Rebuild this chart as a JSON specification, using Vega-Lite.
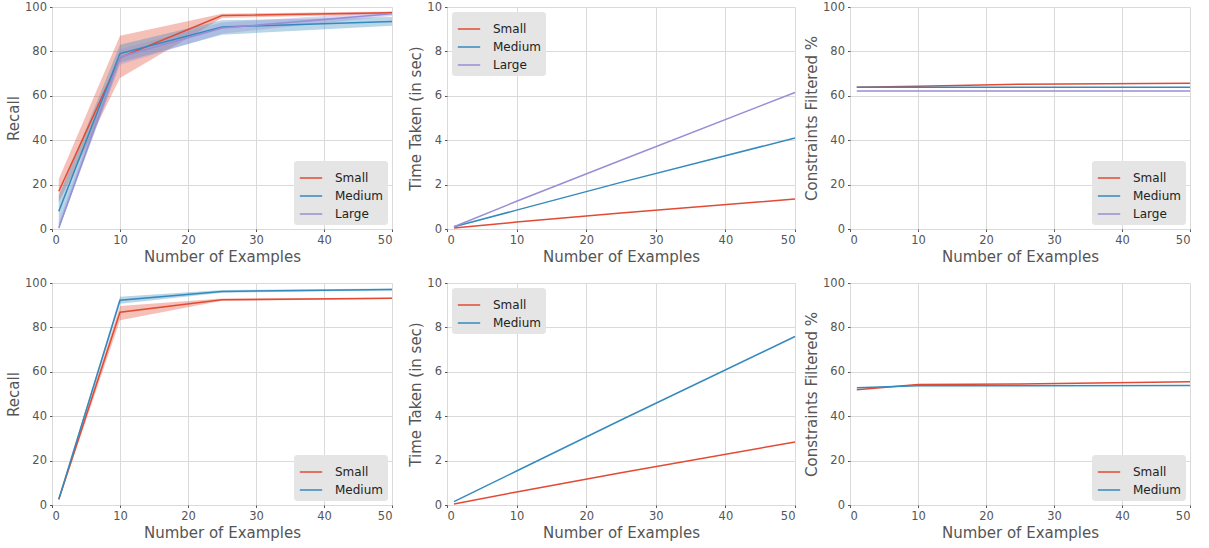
{
  "$schema": "https://vega.github.io/schema/vega-lite/v6.json",
  "background": "white",
  "padding": {"left": 6, "top": 1, "right": 5, "bottom": 5},
  "bounds": "flush",
  "align": "each",
  "columns": 3,
  "spacing": {"row": 54, "column": 55},
  "datasets": {
    "recall1": [
      {"x": 1, "series": "Small", "y": 17, "lo": 12, "hi": 22.5},
      {"x": 10, "series": "Small", "y": 77.2, "lo": 68, "hi": 87},
      {"x": 25, "series": "Small", "y": 96.2, "lo": 95, "hi": 97},
      {"x": 50, "series": "Small", "y": 97.4, "lo": 96.8, "hi": 98},
      {"x": 1, "series": "Medium", "y": 8, "lo": 0, "hi": 15},
      {"x": 10, "series": "Medium", "y": 79, "lo": 75, "hi": 83},
      {"x": 25, "series": "Medium", "y": 91, "lo": 87.5, "hi": 94},
      {"x": 50, "series": "Medium", "y": 93.5, "lo": 91.5, "hi": 95.5},
      {"x": 1, "series": "Large", "y": 0.5, "lo": 0, "hi": 3},
      {"x": 10, "series": "Large", "y": 77.5, "lo": 74, "hi": 81},
      {"x": 25, "series": "Large", "y": 90.5, "lo": 88, "hi": 93},
      {"x": 50, "series": "Large", "y": 97, "lo": 96, "hi": 98}
    ],
    "time1": [
      {"x": 1, "series": "Small", "y": 0.05},
      {"x": 10, "series": "Small", "y": 0.31},
      {"x": 25, "series": "Small", "y": 0.72},
      {"x": 50, "series": "Small", "y": 1.35},
      {"x": 1, "series": "Medium", "y": 0.1},
      {"x": 10, "series": "Medium", "y": 0.85},
      {"x": 25, "series": "Medium", "y": 2.1},
      {"x": 50, "series": "Medium", "y": 4.1},
      {"x": 1, "series": "Large", "y": 0.1},
      {"x": 10, "series": "Large", "y": 1.25},
      {"x": 25, "series": "Large", "y": 3.1},
      {"x": 50, "series": "Large", "y": 6.15}
    ],
    "cons1": [
      {"x": 1, "series": "Small", "y": 63.8},
      {"x": 10, "series": "Small", "y": 64.3},
      {"x": 25, "series": "Small", "y": 65.2},
      {"x": 50, "series": "Small", "y": 65.7},
      {"x": 1, "series": "Medium", "y": 63.8},
      {"x": 10, "series": "Medium", "y": 63.8},
      {"x": 25, "series": "Medium", "y": 63.8},
      {"x": 50, "series": "Medium", "y": 63.8},
      {"x": 1, "series": "Large", "y": 62.2},
      {"x": 10, "series": "Large", "y": 62.2},
      {"x": 25, "series": "Large", "y": 62.2},
      {"x": 50, "series": "Large", "y": 62.2}
    ],
    "recall2": [
      {"x": 1, "series": "Small", "y": 2.6, "lo": 2, "hi": 3.2},
      {"x": 10, "series": "Small", "y": 86.8, "lo": 83.2, "hi": 89.6},
      {"x": 25, "series": "Small", "y": 92.5, "lo": 92, "hi": 93},
      {"x": 50, "series": "Small", "y": 93.1, "lo": 92.8, "hi": 93.4},
      {"x": 1, "series": "Medium", "y": 2.6, "lo": 2, "hi": 3.2},
      {"x": 10, "series": "Medium", "y": 92.2, "lo": 90.7, "hi": 93.8},
      {"x": 25, "series": "Medium", "y": 96.2, "lo": 95.6, "hi": 96.8},
      {"x": 50, "series": "Medium", "y": 97.1, "lo": 96.6, "hi": 97.5}
    ],
    "time2": [
      {"x": 1, "series": "Small", "y": 0.05},
      {"x": 10, "series": "Small", "y": 0.59},
      {"x": 25, "series": "Small", "y": 1.45},
      {"x": 50, "series": "Small", "y": 2.84},
      {"x": 1, "series": "Medium", "y": 0.15},
      {"x": 10, "series": "Medium", "y": 1.53},
      {"x": 25, "series": "Medium", "y": 3.83},
      {"x": 50, "series": "Medium", "y": 7.59}
    ],
    "cons2": [
      {"x": 1, "series": "Small", "y": 51.9},
      {"x": 10, "series": "Small", "y": 54.3},
      {"x": 25, "series": "Small", "y": 54.5},
      {"x": 50, "series": "Small", "y": 55.5},
      {"x": 1, "series": "Medium", "y": 52.8},
      {"x": 10, "series": "Medium", "y": 53.7},
      {"x": 25, "series": "Medium", "y": 53.7},
      {"x": 50, "series": "Medium", "y": 53.8}
    ]
  },
  "resolve": {"scale": {"color": "independent", "fill": "independent"}, "legend": {"color": "independent", "fill": "independent"}},
  "concat": [
    {
      "width": 340, "height": 222,
      "layer": [
        {
          "data": {"name": "recall1"},
          "mark": {"type": "area", "opacity": 0.35},
          "encoding": {
            "x": {"field": "x", "type": "quantitative", "scale": {"domain": [0, 50], "nice": false}, "axis": {"values": [0, 10, 20, 30, 40, 50], "title": "Number of Examples"}},
            "y": {"field": "lo", "type": "quantitative", "scale": {"domain": [0, 100], "nice": false}, "axis": {"values": [0, 20, 40, 60, 80, 100], "title": "Recall"}},
            "y2": {"field": "hi"},
            "fill": {"field": "series", "type": "nominal", "scale": {"domain": ["Large", "Medium", "Small"], "range": ["#988ED5", "#348ABD", "#E24A33"]}, "legend": null}
          }
        },
        {
          "data": {"name": "recall1"},
          "mark": {"type": "line", "strokeWidth": 1.5},
          "encoding": {
            "x": {"field": "x", "type": "quantitative"},
            "y": {"field": "y", "type": "quantitative"},
            "color": {"field": "series", "type": "nominal", "scale": {"domain": ["Small", "Medium", "Large"], "range": ["#E24A33", "#348ABD", "#988ED5"]}, "legend": {"orient": "bottom-right", "offset": 4}}
          }
        }
      ]
    },
    {
      "width": 348, "height": 222,
      "data": {"name": "time1"},
      "mark": {"type": "line", "strokeWidth": 1.5},
      "encoding": {
        "x": {"field": "x", "type": "quantitative", "scale": {"domain": [0, 50], "nice": false}, "axis": {"values": [0, 10, 20, 30, 40, 50], "title": "Number of Examples"}},
        "y": {"field": "y", "type": "quantitative", "scale": {"domain": [0, 10], "nice": false}, "axis": {"values": [0, 2, 4, 6, 8, 10], "title": "Time Taken (in sec)"}},
        "color": {"field": "series", "type": "nominal", "scale": {"domain": ["Small", "Medium", "Large"], "range": ["#E24A33", "#348ABD", "#988ED5"]}, "legend": {"orient": "top-left", "offset": 5}}
      }
    },
    {
      "width": 340, "height": 222,
      "data": {"name": "cons1"},
      "mark": {"type": "line", "strokeWidth": 1.5},
      "encoding": {
        "x": {"field": "x", "type": "quantitative", "scale": {"domain": [0, 50], "nice": false}, "axis": {"values": [0, 10, 20, 30, 40, 50], "title": "Number of Examples"}},
        "y": {"field": "y", "type": "quantitative", "scale": {"domain": [0, 100], "nice": false}, "axis": {"values": [0, 20, 40, 60, 80, 100], "title": "Constraints Filtered %"}},
        "color": {"field": "series", "type": "nominal", "scale": {"domain": ["Small", "Medium", "Large"], "range": ["#E24A33", "#348ABD", "#988ED5"]}, "legend": {"orient": "bottom-right", "offset": 4}}
      }
    },
    {
      "width": 340, "height": 222,
      "layer": [
        {
          "data": {"name": "recall2"},
          "mark": {"type": "area", "opacity": 0.35},
          "encoding": {
            "x": {"field": "x", "type": "quantitative", "scale": {"domain": [0, 50], "nice": false}, "axis": {"values": [0, 10, 20, 30, 40, 50], "title": "Number of Examples"}},
            "y": {"field": "lo", "type": "quantitative", "scale": {"domain": [0, 100], "nice": false}, "axis": {"values": [0, 20, 40, 60, 80, 100], "title": "Recall"}},
            "y2": {"field": "hi"},
            "fill": {"field": "series", "type": "nominal", "scale": {"domain": ["Medium", "Small"], "range": ["#348ABD", "#E24A33"]}, "legend": null}
          }
        },
        {
          "data": {"name": "recall2"},
          "mark": {"type": "line", "strokeWidth": 1.5},
          "encoding": {
            "x": {"field": "x", "type": "quantitative"},
            "y": {"field": "y", "type": "quantitative"},
            "color": {"field": "series", "type": "nominal", "scale": {"domain": ["Small", "Medium"], "range": ["#E24A33", "#348ABD"]}, "legend": {"orient": "bottom-right", "offset": 4}}
          }
        }
      ]
    },
    {
      "width": 348, "height": 222,
      "data": {"name": "time2"},
      "mark": {"type": "line", "strokeWidth": 1.5},
      "encoding": {
        "x": {"field": "x", "type": "quantitative", "scale": {"domain": [0, 50], "nice": false}, "axis": {"values": [0, 10, 20, 30, 40, 50], "title": "Number of Examples"}},
        "y": {"field": "y", "type": "quantitative", "scale": {"domain": [0, 10], "nice": false}, "axis": {"values": [0, 2, 4, 6, 8, 10], "title": "Time Taken (in sec)"}},
        "color": {"field": "series", "type": "nominal", "scale": {"domain": ["Small", "Medium"], "range": ["#E24A33", "#348ABD"]}, "legend": {"orient": "top-left", "offset": 5}}
      }
    },
    {
      "width": 340, "height": 222,
      "data": {"name": "cons2"},
      "mark": {"type": "line", "strokeWidth": 1.5},
      "encoding": {
        "x": {"field": "x", "type": "quantitative", "scale": {"domain": [0, 50], "nice": false}, "axis": {"values": [0, 10, 20, 30, 40, 50], "title": "Number of Examples"}},
        "y": {"field": "y", "type": "quantitative", "scale": {"domain": [0, 100], "nice": false}, "axis": {"values": [0, 20, 40, 60, 80, 100], "title": "Constraints Filtered %"}},
        "color": {"field": "series", "type": "nominal", "scale": {"domain": ["Small", "Medium"], "range": ["#E24A33", "#348ABD"]}, "legend": {"orient": "bottom-right", "offset": 4}}
      }
    }
  ],
  "config": {
    "font": "DejaVu Sans",
    "view": {"stroke": null},
    "axis": {
      "domain": false,
      "grid": true,
      "gridColor": "#dadada",
      "gridWidth": 1,
      "tickColor": "#555555",
      "tickSize": 2.5,
      "labelColor": "#555555",
      "labelFont": "DejaVu Sans",
      "labelFontSize": 11.5,
      "labelPadding": 3,
      "titleColor": "#555555",
      "titleFont": "DejaVu Sans",
      "titleFontSize": 15,
      "titleFontWeight": "normal",
      "titlePadding": 3
    },
    "legend": {
      "title": null,
      "padding": 5,
      "fillColor": "#e5e5e5",
      "cornerRadius": 3,
      "symbolType": "stroke",
      "symbolSize": 500,
      "symbolStrokeWidth": 1.5,
      "labelFont": "DejaVu Sans",
      "labelFontSize": 12,
      "labelColor": "#222222",
      "labelOffset": 12,
      "rowPadding": -4
    }
  }
}
